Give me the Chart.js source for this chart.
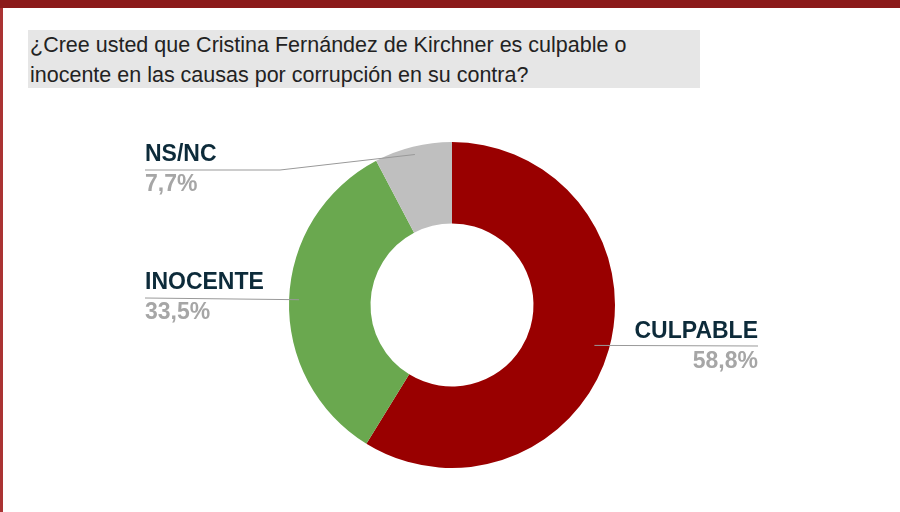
<!DOCTYPE html>
<html><head><meta charset="utf-8">
<script src="https://cdn.jsdelivr.net/npm/chart.js@4"></script>
<style>
body{margin:0;width:900px;height:512px;overflow:hidden;background:#fff;font-family:"Liberation Sans",Arial,sans-serif;position:relative}
#top{position:absolute;left:0;top:0;width:900px;height:8px;background:#8b1a1a}
#left{position:absolute;left:0;top:8px;width:3px;height:504px;background:#a33}
#title{position:absolute;left:28px;top:30px;width:672px;height:58px;background:#e6e6e6;font-size:21.5px;line-height:30px;color:#222;padding:0 0 0 2px;box-sizing:border-box}
#c{position:absolute;left:0;top:0}
</style></head><body>
<div id="top"></div><div id="left"></div>
<div id="title">¿Cree usted que Cristina Fernández de Kirchner es culpable o<br>inocente en las causas por corrupción en su contra?</div>
<canvas id="c" width="900" height="512"></canvas>
<script>
const categories=["CULPABLE","INOCENTE","NS/NC"];
const values=[58.8,33.5,7.7];
const valueLabels=["58,8%","33,5%","7,7%"];
const colors=["#990000","#6aa84f","#bfbfbf"];
const labelPlugin={id:'lbl',afterDatasetsDraw(chart){
  const ctx=chart.ctx, arcs=chart.getDatasetMeta(0).data;
  const spec=[{tx:758,ty:332,align:'right',ex:758,ey:346},
              {tx:145,ty:283,align:'left',ex:145,ey:298},
              {tx:145,ty:155,align:'left',ex:145,ey:170}];
  const inset=[15,10,8];
  arcs.forEach((a,i)=>{
    const mid=(a.startAngle+a.endAngle)/2, r=a.outerRadius-inset[i];
    const px=a.x+Math.cos(mid)*r, py=a.y+Math.sin(mid)*r;
    const s=spec[i];
    ctx.save();ctx.strokeStyle='#999';ctx.lineWidth=1;ctx.beginPath();
    if(i==2){ctx.moveTo(px,py);ctx.lineTo(280,170);ctx.lineTo(s.ex,s.ey);}
    else {ctx.moveTo(px,py);ctx.lineTo(s.ex,s.ey);}
    ctx.stroke();
    ctx.fillStyle='#0d2b3a';ctx.font='bold 23px "Liberation Sans", Arial';ctx.textAlign=s.align;ctx.textBaseline='middle';
    ctx.fillText(categories[i],s.tx,s.ty);
    ctx.fillStyle='#a6a6a6';ctx.fillText(valueLabels[i],s.tx,s.ty+30);
    ctx.restore();
  });
}};
new Chart(document.getElementById('c'),{type:'doughnut',
 data:{labels:categories,datasets:[{data:values,backgroundColor:colors,borderWidth:0}]},
 options:{responsive:false,animation:false,cutout:'50%',
  layout:{padding:{left:289,right:285,top:142,bottom:44}},
  plugins:{legend:{display:false},tooltip:{enabled:false}}},
 plugins:[labelPlugin]});
</script></body></html>
